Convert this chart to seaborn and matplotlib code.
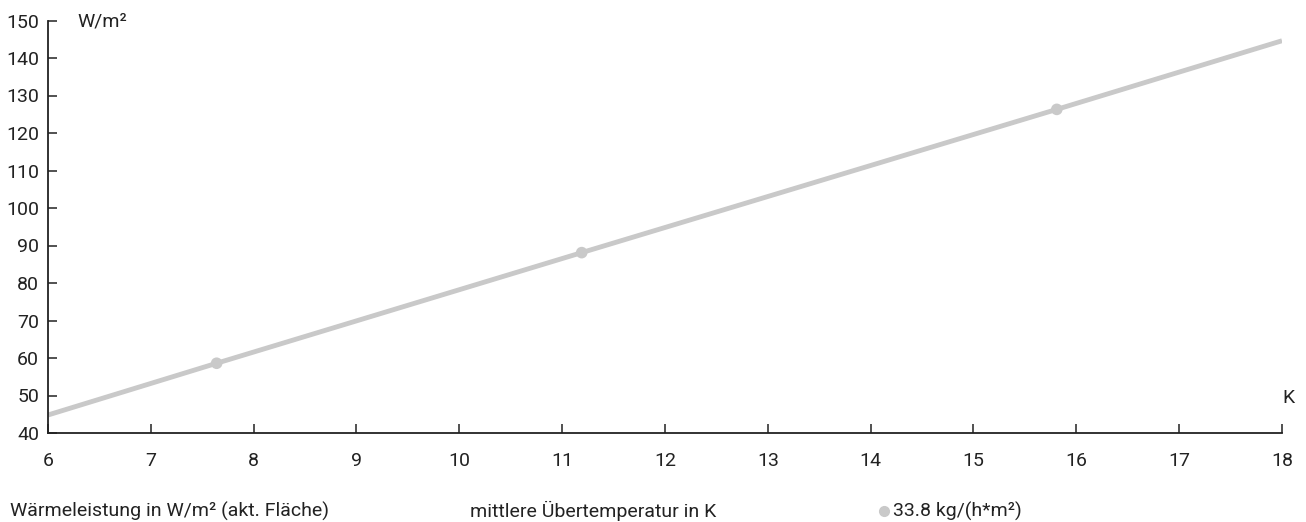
import matplotlib
matplotlib.use("Agg")
import matplotlib.pyplot as plt
from matplotlib.lines import Line2D
import seaborn as sns
import pandas as pd

# Data
line_x = [6.0, 7.64, 11.19, 15.81, 18.0]
line_y = [44.8, 58.6, 88.1, 126.3, 144.6]
point_x = [7.64, 11.19, 15.81]
point_y = [58.6, 88.1, 126.3]
x_ticks = [6, 7, 8, 9, 10, 11, 12, 13, 14, 15, 16, 17, 18]
y_ticks = [40, 50, 60, 70, 80, 90, 100, 110, 120, 130, 140, 150]
series_label = "33.8 kg/(h*m²)"
y_unit = "W/m²"
x_unit = "K"
caption_y = "Wärmeleistung in W/m² (akt. Fläche)"
caption_x = "mittlere Übertemperatur in K"

sns.set_theme(style="white")
plt.rcParams['font.family'] = ['Roboto', 'DejaVu Sans']

line_color = "#c9c9c9"
ink = "#222222"
fs = 14

W, H = 1306, 522
fig = plt.figure(figsize=(W / 100, H / 100), dpi=100)
ax = fig.add_axes([48 / W, 1 - 433 / H, 1234 / W, 412.5 / H])

df_line = pd.DataFrame({"x": line_x, "y": line_y})
df_pts = pd.DataFrame({"x": point_x, "y": point_y})
sns.lineplot(data=df_line, x="x", y="y", ax=ax, color=line_color, linewidth=3.5,
             solid_capstyle="butt", sort=True)
sns.scatterplot(data=df_pts, x="x", y="y", ax=ax, color=line_color, s=70,
                edgecolor="none", zorder=3)

ax.set_xlim(6, 18)
ax.set_ylim(40, 150)
ax.set_xticks(x_ticks)
ax.set_yticks(y_ticks)
ax.set_xlabel("")
ax.set_ylabel("")
for s in ["top", "right"]:
    ax.spines[s].set_visible(False)
for s in ["left", "bottom"]:
    ax.spines[s].set_color(ink)
    ax.spines[s].set_linewidth(1.3)
ax.tick_params(axis="both", direction="in", length=6.5, width=1.1, color=ink,
               labelsize=fs, labelcolor=ink, bottom=True, left=True)
ax.tick_params(axis="x", pad=14)
ax.tick_params(axis="y", pad=6.5)

# unit labels
ax.text(29 / 1234, (433 - 27) / 412.5, y_unit, transform=ax.transAxes, fontsize=fs,
        color=ink, ha="left", va="baseline")
ax.text(1.0, (433 - 398) / 412.5, x_unit, transform=ax.transAxes, fontsize=fs,
        color=ink, ha="left", va="center")

# captions
base = 1 - 517 / H
fig.text(10 / W, base, caption_y, fontsize=fs, color=ink, ha="left", va="baseline")
fig.text(470 / W, base, caption_x, fontsize=fs, color=ink, ha="left", va="baseline")
fig.add_artist(Line2D([884 / W], [1 - 511 / H], transform=fig.transFigure,
                      marker="o", markersize=7, color=line_color, linestyle="none"))
fig.text(893 / W, base, series_label, fontsize=fs, color=ink, ha="left", va="baseline")

fig.savefig("out.png", dpi=100)
